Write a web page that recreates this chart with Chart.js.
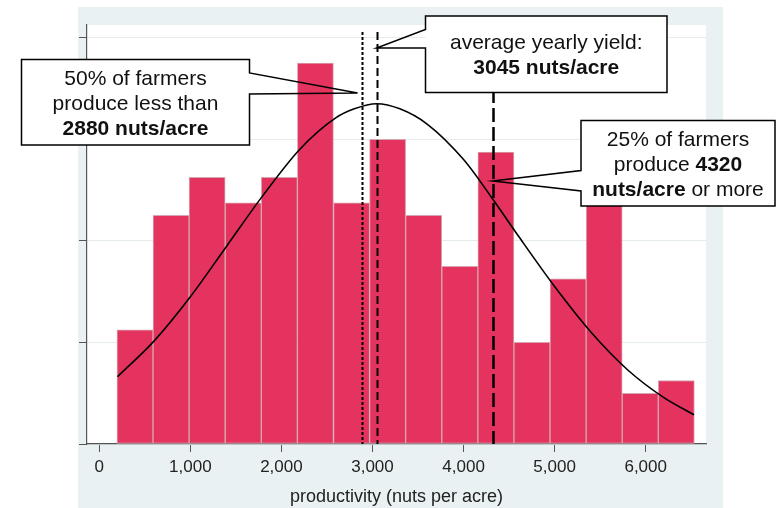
<!DOCTYPE html>
<html><head><meta charset="utf-8">
<script src="https://cdn.jsdelivr.net/npm/chart.js@4/dist/chart.umd.min.js"></script>
<style>html,body{margin:0;padding:0;background:#fff;}canvas{display:block;}</style>
</head><body>
<canvas id="c" width="776" height="508"></canvas>
<script>
// ---- data ----
const binCenters = [392, 788, 1184, 1581, 1977, 2373, 2770, 3166, 3562, 3959, 4355, 4751, 5148, 5544, 5940, 6336];
const binCounts  = [9, 18, 21, 19, 21, 30, 19, 24, 18, 14, 23, 8, 13, 19, 4, 5];
const curveX = [200, 600, 1000, 1400, 1800, 2200, 2600, 2800, 3045, 3300, 3600, 4000, 4300, 4600, 5000, 5400, 5800, 6200, 6530];
const curveY = [5.3, 8.1, 11.6, 15.6, 19.6, 23.2, 25.7, 26.4, 26.8, 26.4, 25.2, 22.4, 19.5, 16.4, 12.4, 8.8, 5.85, 3.65, 2.3];
const xTicks = [0, 1000, 2000, 3000, 4000, 5000, 6000];
const yTicks = [0, 8, 16, 24, 32];
const refValues = [2880, 3045, 4320]; // median, mean, upper quartile
const xTitle = 'productivity (nuts per acre)';
const calloutTexts = [
  [[['50% of farmers', false]], [['produce less than', false]], [['2880 nuts/acre', true]]],
  [[['average yearly yield:', false]], [['3045 nuts/acre', true]]],
  [[['25% of farmers', false]], [['produce ', false], ['4320', true]], [['nuts/acre', true], [' or more', false]]]
];

// ---- styling / drawing ----
const FONT = '"Liberation Sans", Arial, sans-serif';
const refStyles = [
  {dash: [3, 2], width: 2},
  {dash: [8, 4], width: 2},
  {dash: [14, 5], width: 2.5}
];
// callout geometry (canvas px) : box rect, pointer edge side, pointer y's, apex
const calloutGeom = [
  {x0: 21.5, y0: 59.5, x1: 249.5, y1: 145, side: 'right', py1: 73, py2: 94, ax: -4, ay: 93},
  {x0: 425.5, y0: 16, x1: 667, y1: 92.5, side: 'left', py1: 29.5, py2: 48, ax: 0, ay: 48},
  {x0: 581, y0: 120.5, x1: 775, y1: 206, side: 'left', py1: 170.5, py2: 191, ax: 0, ay: 181}
];

const bgPlugin = {
  id: 'bg',
  beforeDraw(chart) {
    const {ctx, chartArea: a} = chart;
    ctx.save();
    ctx.fillStyle = '#fff';
    ctx.fillRect(0, 0, chart.width, chart.height);
    ctx.fillStyle = '#EAF1F3';
    ctx.fillRect(a.left - 9, a.top - 18, (a.right - a.left) + 26, chart.height - (a.top - 18));
    ctx.fillStyle = '#fff';
    ctx.fillRect(a.left, a.top, a.right - a.left, a.bottom - a.top);
    ctx.restore();
  }
};

const refPlugin = {
  id: 'refs',
  afterDatasetsDraw(chart) {
    const {ctx, chartArea: a, scales: {x}} = chart;
    ctx.save();
    ctx.strokeStyle = '#000';
    refValues.forEach((v, i) => {
      const px = Math.round(x.getPixelForValue(v)) + 0.5;
      ctx.lineWidth = refStyles[i].width;
      ctx.setLineDash(refStyles[i].dash);
      ctx.beginPath();
      ctx.moveTo(px, a.top + 7);
      ctx.lineTo(px, a.bottom);
      ctx.stroke();
    });
    ctx.restore();
  }
};

const calloutPlugin = {
  id: 'callouts',
  afterDraw(chart) {
    const {ctx, scales: {x}} = chart;
    ctx.save();
    calloutGeom.forEach((g, i) => {
      const apexX = x.getPixelForValue(refValues[i]) + g.ax;
      ctx.fillStyle = '#fff';
      ctx.fillRect(g.x0, g.y0, g.x1 - g.x0, g.y1 - g.y0);
      ctx.strokeStyle = '#000';
      ctx.lineWidth = 1.5;
      ctx.setLineDash([]);
      ctx.beginPath();
      if (g.side === 'right') {
        ctx.moveTo(g.x0, g.y0);
        ctx.lineTo(g.x1, g.y0);
        ctx.lineTo(g.x1, g.py1);
        ctx.lineTo(apexX, g.ay);
        ctx.lineTo(g.x1, g.py2);
        ctx.lineTo(g.x1, g.y1);
        ctx.lineTo(g.x0, g.y1);
        ctx.closePath();
      } else {
        ctx.moveTo(g.x1, g.y0);
        ctx.lineTo(g.x0, g.y0);
        ctx.lineTo(g.x0, g.py1);
        ctx.lineTo(apexX, g.ay);
        ctx.lineTo(g.x0, g.py2);
        ctx.lineTo(g.x0, g.y1);
        ctx.lineTo(g.x1, g.y1);
        ctx.closePath();
      }
      ctx.stroke();
      // text
      const lines = calloutTexts[i];
      const lh = 25;
      const cx = (g.x0 + g.x1) / 2;
      const firstBase = (g.y0 + g.y1) / 2 - (lines.length - 1) * lh / 2 + 7.5;
      ctx.fillStyle = '#111';
      ctx.textBaseline = 'alphabetic';
      ctx.textAlign = 'left';
      lines.forEach((segs, li) => {
        let total = 0;
        segs.forEach(([t, b]) => { ctx.font = (b ? 'bold ' : '') + '21px ' + FONT; total += ctx.measureText(t).width; });
        let sx = cx - total / 2;
        segs.forEach(([t, b]) => {
          ctx.font = (b ? 'bold ' : '') + '21px ' + FONT;
          ctx.fillText(t, sx, firstBase + li * lh);
          sx += ctx.measureText(t).width;
        });
      });
    });
    ctx.restore();
  }
};

new Chart(document.getElementById('c'), {
  type: 'bar',
  data: {
    datasets: [
      {
        type: 'line',
        data: curveX.map((v, i) => ({x: v, y: curveY[i]})),
        borderColor: '#000',
        borderWidth: 1.6,
        pointRadius: 0,
        cubicInterpolationMode: 'monotone',
        fill: false,
        order: 0
      },
      {
        type: 'bar',
        data: binCenters.map((v, i) => ({x: v, y: binCounts[i]})),
        backgroundColor: '#E3335E',
        borderColor: '#D8A6B0',
        borderWidth: 1,
        borderSkipped: false,
        barPercentage: 1,
        categoryPercentage: 1,
        grouped: false,
        order: 1
      }
    ]
  },
  options: {
    responsive: false,
    animation: false,
    events: [],
    layout: {padding: {left: 79, right: 70, top: 25, bottom: 0}},
    plugins: {legend: {display: false}, tooltip: {enabled: false}},
    scales: {
      x: {
        type: 'linear',
        offset: false,
        min: -135,
        max: 6662,
        afterBuildTicks: s => { s.ticks = xTicks.map(v => ({value: v})); },
        afterFit: s => { s.height = 64; },
        grid: {offset: false, drawOnChartArea: false, drawTicks: true, tickLength: 8, tickColor: '#555', tickWidth: 1},
        border: {display: true, color: '#555', width: 1.2},
        ticks: {
          color: '#222',
          font: {family: FONT, size: 17},
          padding: 5,
          maxRotation: 0,
          callback: v => v.toLocaleString('en-US')
        },
        title: {display: true, text: xTitle, color: '#222', font: {family: FONT, size: 18}, padding: {top: 0, bottom: 0}}
      },
      y: {
        type: 'linear',
        min: 0,
        max: 33,
        afterBuildTicks: s => { s.ticks = yTicks.map(v => ({value: v})); },
        afterFit: s => { s.width = 8; },
        grid: {color: '#E4ECEF', lineWidth: 1, drawTicks: true, tickLength: 8, tickColor: '#555'},
        border: {display: true, color: '#555', width: 1.2},
        ticks: {display: false}
      }
    }
  },
  plugins: [bgPlugin, refPlugin, calloutPlugin]
});
</script>
</body></html>
